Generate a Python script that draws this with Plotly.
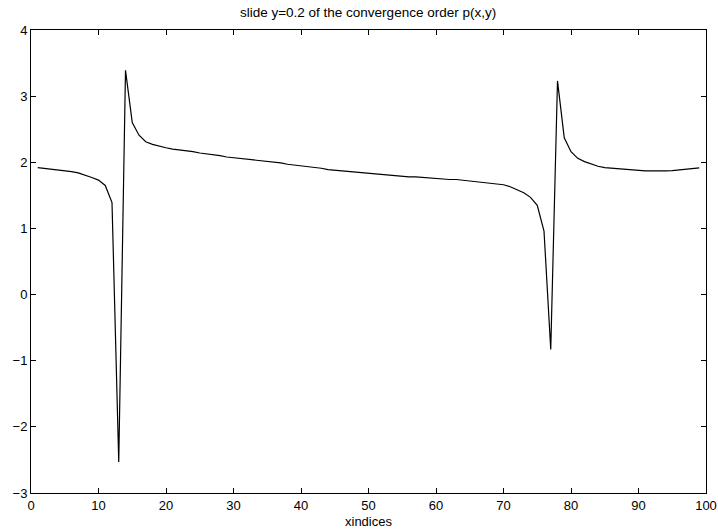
import plotly.graph_objects as go

x_idx = list(range(1, 100))
p_vals = [
    1.92, 1.91, 1.90, 1.89, 1.88, 1.86, 1.84, 1.81, 1.77, 1.73,   # 1-10
    1.65, 1.39, -2.53, 3.39, 2.60, 2.41, 2.31, 2.27, 2.24, 2.22,  # 11-20
    2.20, 2.19, 2.17, 2.16, 2.14, 2.13, 2.11, 2.10, 2.08, 2.07,   # 21-30
    2.06, 2.04, 2.03, 2.02, 2.01, 2.00, 1.99, 1.97, 1.96, 1.95,   # 31-40
    1.93, 1.92, 1.91, 1.89, 1.88, 1.87, 1.86, 1.85, 1.84, 1.83,   # 41-50
    1.82, 1.82, 1.81, 1.80, 1.79, 1.78, 1.78, 1.77, 1.76, 1.76,   # 51-60
    1.75, 1.74, 1.74, 1.73, 1.72, 1.71, 1.70, 1.69, 1.67, 1.66,   # 61-70
    1.63, 1.59, 1.54, 1.47, 1.35, 0.96, -0.83, 3.23, 2.37, 2.16,  # 71-80
    2.06, 2.01, 1.97, 1.94, 1.92, 1.91, 1.90, 1.89, 1.88, 1.875,  # 81-90
    1.87, 1.87, 1.865, 1.87, 1.875, 1.885, 1.895, 1.905, 1.915,   # 91-99
]

x_ticks = [0, 10, 20, 30, 40, 50, 60, 70, 80, 90, 100]
y_ticks = [-3, -2, -1, 0, 1, 2, 3, 4]

fig = go.Figure()
fig.add_trace(go.Scatter(x=x_idx, y=p_vals, mode="lines",
                         line=dict(color="black", width=1.2),
                         showlegend=False, hoverinfo="x+y"))

fam = "Liberation Sans, Arial, Helvetica, sans-serif"
font = dict(family=fam, size=13, color="black")

fig.update_layout(
    width=718, height=529,
    margin=dict(l=31, r=12, t=30, b=36, autoexpand=False),
    paper_bgcolor="white", plot_bgcolor="white",
    font=font,
    title=dict(text="slide y=0.2 of the convergence order p(x,y)",
               x=0.5126, xanchor="center", y=0.976, yanchor="middle",
               font=dict(size=13.5, family=fam, color="black")),
    xaxis=dict(range=[0, 100], tickvals=x_ticks, ticks="inside", ticklen=5,
               tickcolor="black", showline=True, linecolor="black", linewidth=1,
               mirror="ticks", showgrid=False, zeroline=False, automargin=False,
               tickfont=dict(size=13)),
    yaxis=dict(range=[-3, 4], tickvals=y_ticks, ticks="inside", ticklen=5,
               tickcolor="black", showline=True, linecolor="black", linewidth=1,
               mirror="ticks", showgrid=False, zeroline=False, automargin=False,
               tickfont=dict(size=13)),
    annotations=[dict(text="xindices", xref="paper", yref="paper",
                      x=0.5, y=-0.0605, xanchor="center", yanchor="middle",
                      showarrow=False, font=dict(size=13, family=fam, color="black"))],
)

fig.write_html("out.html")
